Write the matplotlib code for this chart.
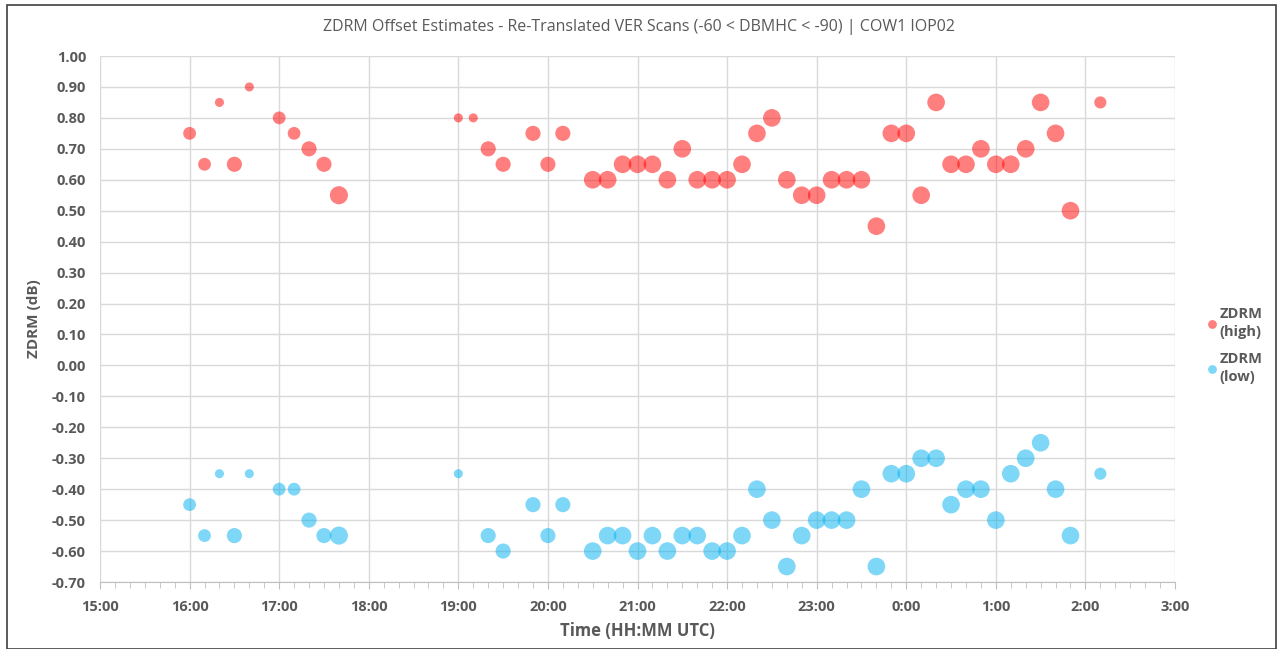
import matplotlib
matplotlib.use('Agg')
import matplotlib.pyplot as plt
from matplotlib.ticker import MultipleLocator, FuncFormatter
from matplotlib.patches import Rectangle

# 스캔 시각 (UTC), 자정 이후는 +24h 로 처리
times = ['16:00', '16:10', '16:20', '16:30', '16:40', '17:00', '17:10', '17:20', '17:30', '17:40',
         '19:00', '19:10', '19:20', '19:30', '19:50', '20:00', '20:10', '20:30', '20:40', '20:50',
         '21:00', '21:10', '21:20', '21:30', '21:40', '21:50', '22:00', '22:10', '22:20', '22:30',
         '22:40', '22:50', '23:00', '23:10', '23:20', '23:30', '23:40', '23:50', '0:00', '0:10',
         '0:20', '0:30', '0:40', '0:50', '1:00', '1:10', '1:20', '1:30', '1:40', '1:50', '2:10']

zdrm_high = [0.75, 0.65, 0.85, 0.65, 0.90, 0.80, 0.75, 0.70, 0.65, 0.55,
             0.80, 0.80, 0.70, 0.65, 0.75, 0.65, 0.75, 0.60, 0.60, 0.65,
             0.65, 0.65, 0.60, 0.70, 0.60, 0.60, 0.60, 0.65, 0.75, 0.80,
             0.60, 0.55, 0.55, 0.60, 0.60, 0.60, 0.45, 0.75, 0.75, 0.55,
             0.85, 0.65, 0.65, 0.70, 0.65, 0.65, 0.70, 0.85, 0.75, 0.50, 0.85]

zdrm_low = [-0.45, -0.55, -0.35, -0.55, -0.35, -0.40, -0.40, -0.50, -0.55, -0.55,
            -0.35, None, -0.55, -0.60, -0.45, -0.55, -0.45, -0.60, -0.55, -0.55,
            -0.60, -0.55, -0.60, -0.55, -0.55, -0.60, -0.60, -0.55, -0.40, -0.50,
            -0.65, -0.55, -0.50, -0.50, -0.50, -0.40, -0.65, -0.35, -0.35, -0.30,
            -0.30, -0.45, -0.40, -0.40, -0.50, -0.35, -0.30, -0.25, -0.40, -0.55, -0.35]

# 버블 크기 (스캔 수 추정)
bubble = [5, 5, 2.5, 7, 2.5, 5, 5, 7, 7, 10,
          2.5, 2.5, 7, 7, 7, 7, 7, 9.5, 9.5, 9.5,
          9.5, 9.5, 9.5, 9.5, 9.5, 9.5, 9.5, 9.5, 9.5, 9.5,
          9.5, 9.5, 9.5, 9.5, 9.5, 9.5, 9.5, 9.5, 9.5, 9.5,
          9.5, 9.5, 9.5, 9.5, 9.5, 9.5, 9.5, 9.5, 9.5, 9.5, 4.5]


def to_hours(t):
    h, m = t.split(':')
    h = int(h) + int(m) / 60
    return h + 24 if h < 12 else h


x = [to_hours(t) for t in times]
xl = [xx for xx, v in zip(x, zdrm_low) if v is not None]
yl = [v for v in zdrm_low if v is not None]
sl = [s for s, v in zip(bubble, zdrm_low) if v is not None]

plt.rcParams['font.family'] = ['Open Sans', 'DejaVu Sans']
grey = '#595959'

fig = plt.figure(figsize=(12.78, 6.49), dpi=100)
ax = fig.add_axes([100 / 1278, 1 - 582 / 649, 1075 / 1278, 526 / 649])

k = 17
ax.scatter(x, zdrm_high, s=[k * b for b in bubble], color='#FF0000', alpha=0.5,
           linewidths=0, label='ZDRM\n(high)', zorder=3)
ax.scatter(xl, yl, s=[k * b for b in sl], color='#00B0F0', alpha=0.5,
           linewidths=0, label='ZDRM\n(low)', zorder=3)

ax.set_xlim(15, 27)
ax.set_ylim(-0.70, 1.00)
ax.xaxis.set_major_locator(MultipleLocator(1))
ax.xaxis.set_minor_locator(MultipleLocator(1 / 6))
ax.yaxis.set_major_locator(MultipleLocator(0.1))
ax.xaxis.set_major_formatter(FuncFormatter(lambda v, p: '%d:00' % (int(round(v)) % 24)))
ax.yaxis.set_major_formatter(FuncFormatter(lambda v, p: '%.2f' % (0 if abs(v) < 1e-9 else v)))

ax.grid(True, which='major', color='#D9D9D9', linewidth=1)
ax.set_axisbelow(True)
for side in ['top', 'right', 'left']:
    ax.spines[side].set_visible(False)
ax.spines['bottom'].set_color('#BFBFBF')
ax.tick_params(axis='y', length=0, pad=10, labelsize=10.5, labelcolor=grey)
ax.tick_params(axis='x', which='major', length=5, color='#BFBFBF', pad=8, labelsize=10.5, labelcolor=grey)
ax.tick_params(axis='x', which='minor', length=4, color='#BFBFBF')
for lab in ax.get_xticklabels() + ax.get_yticklabels():
    lab.set_fontweight('bold')

ax.set_xlabel('Time (HH:MM UTC)', fontsize=12, fontweight='bold', color=grey, labelpad=6)
ax.set_ylabel('ZDRM (dB)', fontsize=11, fontweight='bold', color=grey, labelpad=8)
fig.text(0.5, 1 - 27 / 649, 'ZDRM Offset Estimates - Re-Translated VER Scans (-60 < DBMHC < -90) | COW1 IOP02',
         ha='center', va='center', fontsize=11.5, color=grey)

leg = ax.legend(loc='center left', bbox_to_anchor=(1.028, 0.45), frameon=False, fontsize=10.5,
                labelcolor=grey, handletextpad=0.0, handlelength=1.0, labelspacing=0.9,
                borderaxespad=0, borderpad=0)
for t in leg.get_texts():
    t.set_fontweight('bold')
    t.set_linespacing(1.35)
for h in leg.legend_handles:
    h.set_sizes([40])

fig.patches.append(Rectangle((7 / 1278, 0), 1269 / 1278, 1 - 5 / 649, transform=fig.transFigure,
                             fill=False, edgecolor='#404040', linewidth=1.2))

plt.savefig('out.png', dpi=100)
